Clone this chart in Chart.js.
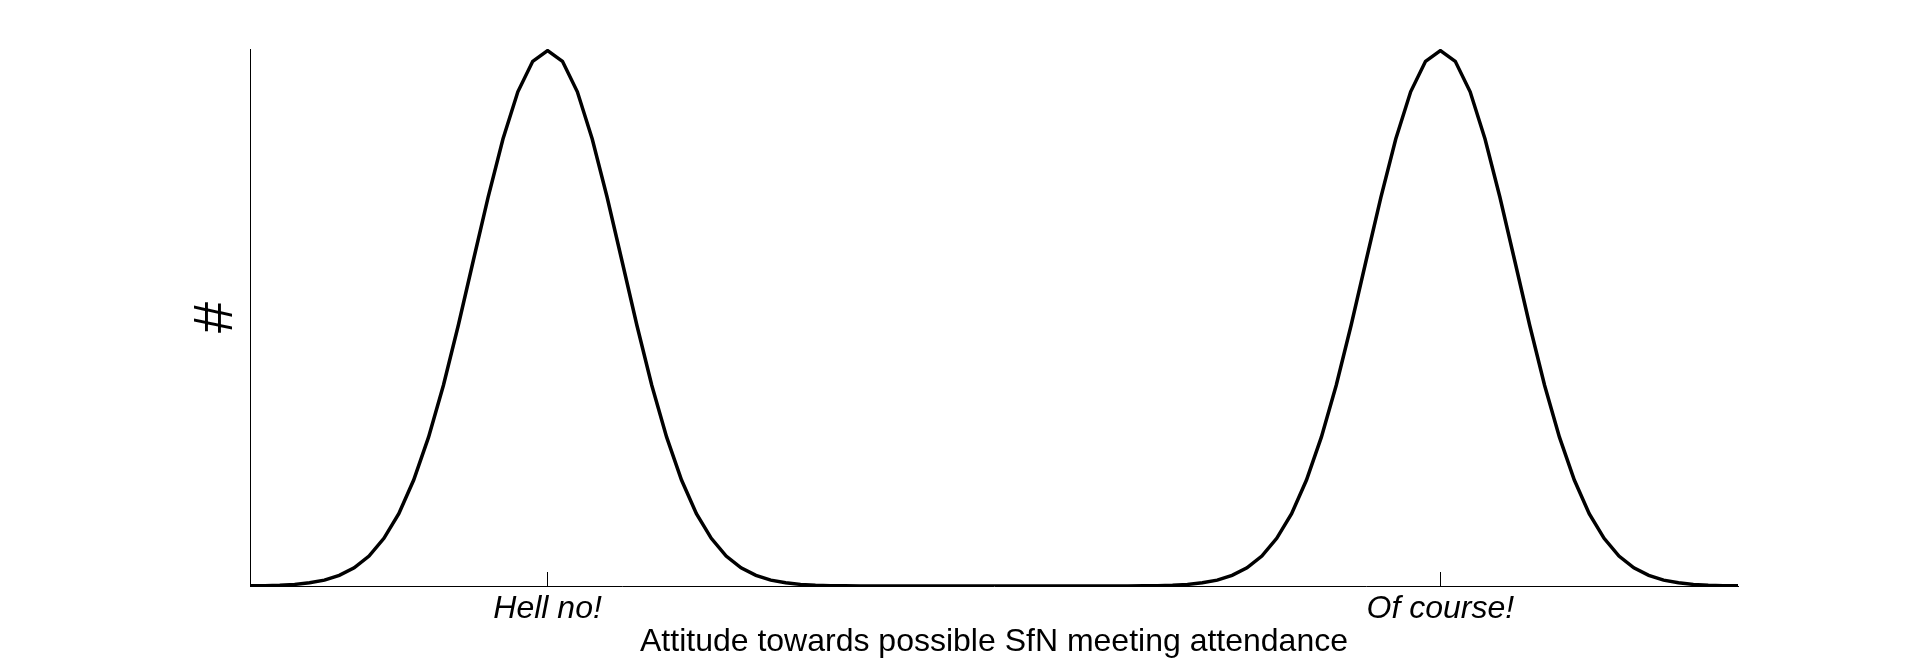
<!DOCTYPE html>
<html>
<head>
<meta charset="utf-8">
<script src="https://cdn.jsdelivr.net/npm/chart.js@4"></script>
<style>
  body { margin: 0; background: #fff; }
  canvas { display: block; }
</style>
</head>
<body>
<canvas id="attitudeChart" width="1920" height="659"></canvas>
<script>
// number of people (relative) per attitude step, steps 0..100
const counts = [
    0.0003, 0.0007, 0.0015, 0.003, 0.006, 0.011, 0.020, 0.034, 0.056, 0.089,
    0.135, 0.198, 0.278, 0.375, 0.487, 0.607, 0.726, 0.835, 0.923, 0.980,
    1.000,
    0.980, 0.923, 0.835, 0.726, 0.607, 0.487, 0.375, 0.278, 0.198, 0.135,
    0.089, 0.056, 0.034, 0.020, 0.011, 0.006, 0.003, 0.0015, 0.0007, 0.0003,
    0, 0, 0, 0, 0, 0, 0, 0, 0, 0,
    0, 0, 0, 0, 0, 0, 0, 0, 0,
    0.0003, 0.0007, 0.0015, 0.003, 0.006, 0.011, 0.020, 0.034, 0.056, 0.089,
    0.135, 0.198, 0.278, 0.375, 0.487, 0.607, 0.726, 0.835, 0.923, 0.980,
    1.000,
    0.980, 0.923, 0.835, 0.726, 0.607, 0.487, 0.375, 0.278, 0.198, 0.135,
    0.089, 0.056, 0.034, 0.020, 0.011, 0.006, 0.003, 0.0015, 0.0007, 0.0003
];

const tickPositions = [20, 80];
const tickLabels = ['Hell no!', 'Of course!'];

const xTitle = 'Attitude towards possible SfN meeting attendance';
const yTitle = '#';

const fontFamily = "'Liberation Sans', Arial, Helvetica, sans-serif";

const attitudeChart = new Chart('attitudeChart', {
    type: 'line',
    data: {
        datasets: [{
            data: counts.map((v, i) => ({x: i, y: v})),
            borderColor: '#000',
            borderWidth: 3.5,
            pointRadius: 0,
            tension: 0,
            fill: false
        }]
    },
    options: {
        responsive: false,
        maintainAspectRatio: false,
        animation: false,
        layout: {
            padding: {left: 183, right: 182, top: 49, bottom: 0}
        },
        plugins: {
            legend: { display: false },
            tooltip: { enabled: false }
        },
        scales: {
            x: {
                type: 'linear',
                min: 0,
                max: 100,
                afterBuildTicks: (scale) => {
                    scale.ticks = tickPositions.map(v => ({value: v}));
                },
                afterFit: (scale) => { scale.height = 73; },
                ticks: {
                    color: '#000',
                    padding: 18,
                    maxRotation: 0,
                    autoSkip: false,
                    font: {family: fontFamily, size: 32, style: 'italic'},
                    callback: (value) => tickLabels[tickPositions.indexOf(value)]
                },
                grid: {
                    display: true,
                    drawOnChartArea: false,
                    drawTicks: true,
                    tickLength: -14,
                    color: '#000',
                    lineWidth: 1
                },
                border: { display: true, color: '#000', width: 1 },
                title: {
                    display: true,
                    text: xTitle,
                    color: '#000',
                    padding: {top: 0, bottom: 1},
                    font: {family: fontFamily, size: 32, lineHeight: 1.0}
                }
            },
            y: {
                min: 0,
                max: 1.003,
                afterFit: (scale) => { scale.width = 67; },
                ticks: { display: false },
                grid: { display: false },
                border: { display: true, color: '#000', width: 1 },
                title: {
                    display: true,
                    text: yTitle,
                    color: '#000',
                    padding: 0,
                    font: {family: fontFamily, size: 56}
                }
            }
        }
    }
});
</script>
</body>
</html>
